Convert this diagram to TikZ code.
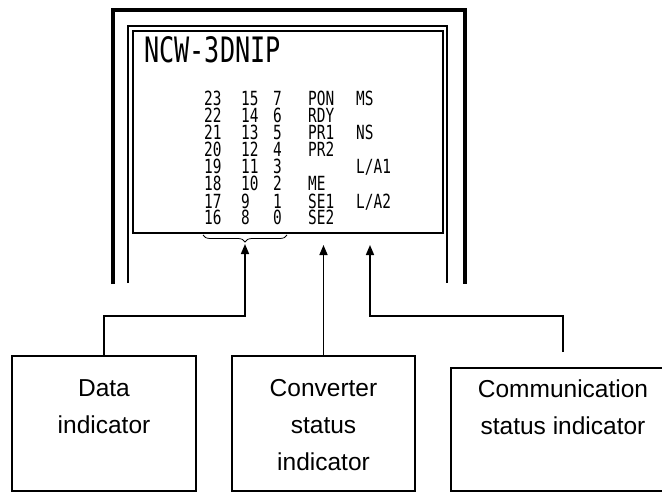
\documentclass[tikz,border=0pt]{standalone}
\usepackage{fontspec}
\setmainfont{Liberation Sans}
\newfontfamily\lcdbig[FakeStretch=0.72]{DejaVu Sans Mono}
\newfontfamily\lcdsmall[FakeStretch=0.74]{DejaVu Sans Mono}
\usetikzlibrary{arrows.meta,positioning,decorations.pathreplacing}

\begin{document}
\begin{tikzpicture}[x=1pt, y=-1pt,
  lcd/.style={anchor=base west, inner sep=0pt, text height=14pt, text depth=0pt, font=\lcdsmall\fontsize{19.5}{19.5}\selectfont},
  indbox/.style={draw, line width=1.8pt, inner sep=0pt, minimum width=183pt},
  boxtext/.style={align=center, inner sep=0pt, font=\fontsize{24.5}{37}\selectfont},
  conn/.style={line width=1.5pt, -{Triangle[length=10pt,width=8pt]}}]
\useasboundingbox (0,0) rectangle (662,492);
\draw[line width=3.5pt] (113,284) -- (113,10) -- (465,10) -- (465,284);
\draw[line width=2pt] (128,283) -- (128,26) -- (447,26) -- (447,283);
\draw[line width=1.5pt] (133,31) rectangle (443,233);
\node[anchor=base west, inner sep=0pt, font=\lcdbig\fontsize{35}{36}\selectfont] (model) at (144,63) {NCW-3DNIP};
\foreach \r in {0,...,7}{
  \pgfmathtruncatemacro\bitc{23-\r}
  \pgfmathtruncatemacro\bitb{15-\r}
  \pgfmathtruncatemacro\bita{7-\r}
  \node[lcd] (hi\r) at (204,106+17*\r) {\bitc};
  \node[lcd] (md\r) at (241,106+17*\r) {\bitb};
  \node[lcd] (lo\r) at (273,106+17*\r) {\bita};
}
\foreach \lbl [count=\r from 0] in {PON,RDY,PR1,PR2,{},ME,SE1,SE2}
  \node[lcd] (cnv\r) at (308,106+17*\r) {\lbl};
\foreach \r/\lbl in {0/MS,2/NS,4/{L/A1},6/{L/A2}}
  \node[lcd] (com\r) at (356,106+17*\r) {\lbl};
\draw[decorate, decoration={brace, amplitude=7pt}, line width=0.8pt] (287,235) -- (203,235);
\coordinate (dattip) at (245,244);
\coordinate (cnvtip) at (321,245);
\coordinate (comtip) at (370,245);
\node[indbox, minimum width=184pt, minimum height=135pt] (datbox) at (104,423.5) {};
\node[indbox, minimum height=135pt] (cnvbox) at (323.5,423.5) {};
\node[indbox, minimum width=224pt, minimum height=123pt] (comBox) at (563,429.5) {};
\node[boxtext, below=24pt of datbox.north] (dattext) {Data\\indicator};
\node[boxtext, below=24pt of cnvbox.north] (cnvtext) {Converter\\status\\indicator};
\node[boxtext, below=12pt of comBox.north] (comtext) {Communication\\status indicator};
\draw[conn] (datbox.north) -- ++(0,-39) -| (dattip);
\draw[conn] (cnvbox.north) -- (cnvbox.north |- cnvtip);
\draw[conn, shorten <=15pt] (comBox.north) -- ++(0,-51) -| (comtip);
\end{tikzpicture}
\end{document}
